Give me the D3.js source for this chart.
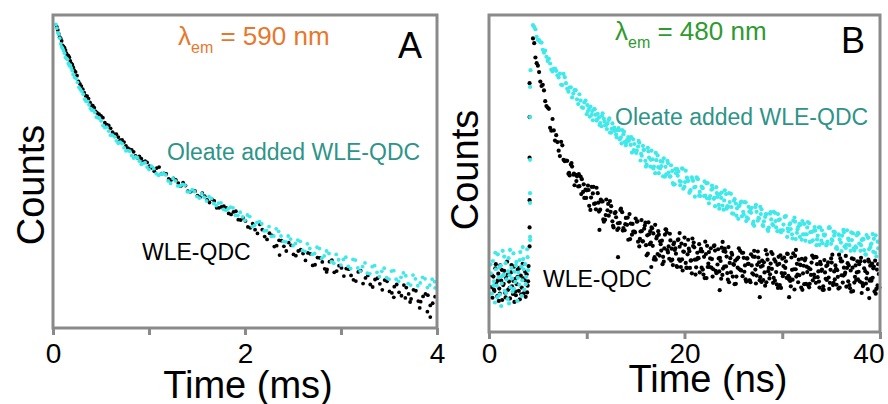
<!DOCTYPE html>
<html>
<head>
<meta charset="utf-8">
<script src="https://cdn.jsdelivr.net/npm/d3@7"></script>
<style>
    body { margin: 0; background: #fff; }
    text { font-family: "Liberation Sans", Arial, sans-serif; }
</style>
</head>
<body>
<svg id="chart" width="888" height="404"></svg>
<script>
// axis ticks
const ticksA = [0, 1, 2, 3, 4];
const tickLabelsA = [0, 2, 4];
const ticksB = [0, 10, 20, 30, 40];
const tickLabelsB = [0, 20, 40];

// panel A, lambda_em = 590 nm, [time (ms), counts]
const blackA = [
    [0.04,96.2],[0.06,94.0],[0.08,92.5],[0.10,90.3],[0.12,89.5],[0.14,87.8],[0.16,87.0],[0.18,85.3],[0.20,84.2],[0.22,82.4],
    [0.25,80.6],[0.28,78.0],[0.31,76.3],[0.34,74.2],[0.37,73.3],[0.40,71.2],[0.43,70.4],[0.46,68.7],[0.50,67.8],[0.54,65.6],
    [0.58,64.7],[0.62,62.6],[0.66,61.9],[0.70,60.0],[0.74,59.4],[0.78,57.5],[0.82,56.9],[0.86,55.0],[0.90,54.8],[0.94,53.1],
    [0.98,52.9],[1.03,51.2],[1.08,51.1],[1.13,49.3],[1.18,49.2],[1.23,47.3],[1.28,47.3],[1.33,45.3],[1.38,45.5],[1.43,43.5],
    [1.48,43.7],[1.53,41.8],[1.58,42.1],[1.63,40.1],[1.68,40.6],[1.73,38.4],[1.78,38.9],[1.83,36.6],[1.88,37.1],[1.93,34.6],
    [1.98,35.2],[2.03,32.3],[2.08,33.3],[2.13,30.2],[2.18,31.4],[2.23,28.3],[2.28,29.6],[2.33,26.3],[2.38,27.9],[2.43,24.6],
    [2.48,26.4],[2.53,23.1],[2.58,25.0],[2.63,21.6],[2.68,23.7],[2.73,20.2],[2.78,22.4],[2.83,18.9],[2.88,21.2],[2.93,17.8],
    [2.98,19.9],[3.03,16.6],[3.08,18.8],[3.13,15.4],[3.18,17.9],[3.23,14.2],[3.28,16.8],[3.33,13.1],[3.38,15.9],[3.43,12.2],
    [3.48,14.9],[3.53,11.2],[3.58,13.9],[3.63,10.3],[3.68,12.9],[3.73,9.3],[3.78,11.9],[3.83,8.4],[3.88,10.9],[3.93,7.2],
    [3.98,10.0],[2.36,23.3],[2.85,17.9],[3.55,9.8],[3.67,9.6],[3.72,8.3],[3.82,6.4],[3.93,3.5],[3.90,5.2],
    [0.05,95.2],[0.07,92.9],[0.09,91.7],[0.11,89.9],[0.13,88.8],[0.15,87.1],[0.17,86.5],[0.19,84.5],[0.21,83.3],[0.235,81.8],
    [0.265,78.8],[0.295,77.3],[0.325,75.2],[0.355,74.1],[0.385,72.1],[0.415,71.0],[0.445,69.2],[0.48,68.3],[0.52,67.2],[0.56,65.0],
    [0.60,63.8],[0.64,61.9],[0.68,61.0],[0.72,60.1],[0.76,58.2],[0.80,57.1],[0.84,56.3],[0.88,54.4],[0.92,54.1],[0.96,53.3],
    [1.005,51.7],[1.055,50.1],[1.105,51.4],[1.155,49.4],[1.205,47.6],[1.255,47.8],[1.305,46.3],[1.355,46.4],[1.405,43.7],[1.455,43.9],
    [1.505,42.3],[1.555,43.1],[1.605,40.9],[1.655,41.2],[1.705,38.4],[1.755,38.7],[1.805,38.4],[1.855,36.3],[1.905,37.3],[1.955,34.5],
    [2.005,34.2],[2.055,32.0],[2.105,31.4],[2.155,33.1],[2.205,29.2],[2.255,30.3],[2.305,26.0],[2.355,28.0],[2.405,26.1],[2.455,27.3],
    [2.505,23.5],[2.555,24.6],[2.605,23.8],[2.655,24.0],[2.705,20.0],[2.755,22.5],[2.805,21.1],[2.855,18.7],[2.905,21.7],[2.955,18.2],
    [3.005,19.2],[3.055,19.0],[3.105,16.8],[3.155,15.0],[3.205,18.3],[3.255,16.0],[3.305,13.9],[3.355,15.5],[3.405,14.1],[3.455,15.3],
    [3.505,11.7],[3.555,13.2],[3.605,11.4],[3.655,13.7],[3.705,10.9],[3.755,12.2],[3.805,8.6],[3.855,10.1],[3.905,10.5],[3.955,7.9]
];
const cyanA = [
    [0.03,97.0],[0.05,94.3],[0.07,92.6],[0.09,89.8],[0.11,88.6],[0.13,86.5],[0.15,85.9],[0.17,83.8],[0.19,83.1],[0.21,81.0],
    [0.24,79.7],[0.27,76.9],[0.30,75.6],[0.33,73.1],[0.36,72.4],[0.39,70.1],[0.42,69.5],[0.45,67.4],[0.48,67.1],[0.52,64.7],
    [0.56,64.2],[0.60,61.6],[0.64,61.1],[0.68,59.0],[0.72,58.9],[0.76,56.6],[0.80,56.5],[0.84,54.3],[0.88,54.4],[0.92,52.3],
    [0.96,52.8],[1.00,50.6],[1.05,50.9],[1.10,48.8],[1.15,49.4],[1.20,47.0],[1.25,47.8],[1.30,45.4],[1.35,45.9],[1.40,43.5],
    [1.45,44.2],[1.50,42.0],[1.55,42.9],[1.60,40.6],[1.65,41.4],[1.70,39.1],[1.75,40.0],[1.80,37.6],[1.85,38.6],[1.90,36.0],
    [1.95,37.0],[2.00,34.4],[2.05,35.6],[2.10,32.8],[2.15,34.0],[2.20,31.0],[2.25,32.4],[2.30,29.4],[2.35,30.9],[2.40,27.7],
    [2.45,29.4],[2.50,26.3],[2.55,28.1],[2.60,24.8],[2.65,26.9],[2.70,23.5],[2.75,25.8],[2.80,22.3],[2.85,24.6],[2.90,21.2],
    [2.95,23.5],[3.00,20.1],[3.05,22.6],[3.10,19.0],[3.15,21.7],[3.20,18.2],[3.25,20.8],[3.30,17.3],[3.35,19.9],[3.40,16.4],
    [3.45,19.1],[3.50,15.6],[3.55,18.3],[3.60,14.9],[3.65,17.6],[3.70,14.2],[3.75,16.9],[3.80,13.5],[3.85,16.2],[3.90,12.9],
    [3.95,15.6],[3.98,12.8],
    [0.04,95.8],[0.06,93.9],[0.08,90.8],[0.10,89.3],[0.12,87.8],[0.14,86.1],[0.16,84.5],[0.18,84.0],[0.20,82.2],[0.225,80.1],
    [0.255,78.5],[0.285,76.2],[0.315,74.7],[0.345,72.4],[0.375,71.3],[0.405,69.6],[0.435,68.9],[0.465,67.2],[0.50,66.2],[0.54,64.0],
    [0.58,62.9],[0.62,61.6],[0.66,59.8],[0.70,59.4],[0.74,57.6],[0.78,56.7],[0.82,55.1],[0.86,54.7],[0.90,53.3],[0.94,52.6],
    [0.98,51.4],[1.025,51.7],[1.075,49.3],[1.125,49.2],[1.175,48.9],[1.225,46.2],[1.275,47.0],[1.325,45.4],[1.375,45.6],[1.425,43.5],
    [1.475,43.6],[1.525,41.5],[1.575,41.8],[1.625,42.0],[1.675,39.8],[1.725,39.9],[1.775,37.9],[1.825,38.1],[1.875,38.4],[1.925,36.0],
    [1.975,35.5],[2.025,36.1],[2.075,32.4],[2.125,33.7],[2.175,33.3],[2.225,31.1],[2.275,29.3],[2.325,31.7],[2.375,29.4],[2.425,27.5],
    [2.475,28.4],[2.525,27.0],[2.575,27.7],[2.625,24.5],[2.675,25.4],[2.725,23.8],[2.775,25.4],[2.825,23.0],[2.875,23.8],[2.925,20.7],
    [2.975,21.8],[3.025,21.9],[3.075,19.7],[3.125,21.9],[3.175,19.2],[3.225,19.6],[3.275,17.5],[3.325,19.6],[3.375,17.8],[3.425,18.1],
    [3.475,16.1],[3.525,18.2],[3.575,15.6],[3.625,16.2],[3.675,16.7],[3.725,13.7],[3.775,15.7],[3.825,14.4],[3.875,15.7],[3.925,13.7],
    [3.975,14.8]
];

// panel B, lambda_em = 480 nm, [time (ns), counts]
const blackB = [
    [0.25,14.2],[0.35,10.8],[0.45,17.5],[0.55,12.9],[0.65,20.1],[0.75,15.6],[0.85,11.3],[0.95,18.4],[1.05,13.7],[1.15,21.0],
    [1.25,16.2],[1.35,10.1],[1.45,14.8],[1.55,19.3],[1.65,12.4],[1.75,17.0],[1.85,22.2],[1.95,13.3],[2.05,15.9],[2.15,10.6],
    [2.25,18.8],[2.35,14.4],[2.45,12.0],[2.55,20.6],[2.65,16.7],[2.75,11.6],[2.85,15.1],[2.95,19.7],[3.05,13.0],[3.15,10.3],
    [3.25,17.8],[3.35,14.0],[3.45,21.5],[3.55,12.2],[3.65,16.4],[3.75,11.1],[3.85,18.2],[3.95,14.6],[4.05,20.8],
    [0.3,17.9],[0.5,13.4],[0.7,21.4],[0.9,16.3],[1.1,12.1],[1.3,19.6],[1.5,15.2],[1.7,10.9],[1.9,18.0],[2.1,13.9],
    [2.3,21.1],[2.5,16.1],[2.7,12.8],[2.9,17.3],[3.1,20.2],[3.3,11.9],[3.5,16.9],[3.7,19.0],[3.9,12.5],[4.0,16.0],[1.0,9.8],[2.6,9.5],
    [4.15,27.0],[4.15,33.0],[4.15,41.6],[4.15,55.0],[4.15,67.8],[4.15,78.5],
    [4.50,92.6],[4.75,86.6],[5.00,84.0],[5.25,79.0],[5.50,78.0],[5.75,72.8],[6.00,70.8],[6.25,64.4],[6.50,67.2],[6.75,60.4],
    [7.00,59.9],[7.25,55.5],[7.50,58.9],[7.75,53.9],[8.00,54.0],[8.25,49.4],[8.50,52.2],[8.75,46.3],[9.00,49.1],[9.25,46.0],
    [9.50,48.2],[9.75,42.3],[10.0,44.7],[10.25,39.8],[10.5,45.8],[10.75,40.4],[11.0,45.5],[11.25,38.0],[11.5,41.2],[11.75,34.8],
    [12.0,41.8],[12.25,36.7],[12.5,39.7],[12.75,33.0],[13.0,36.2],[13.25,32.7],[13.5,38.9],[13.75,32.8],[14.0,36.0],[14.25,29.1],
    [14.5,34.2],[14.75,31.7],[15.0,35.8],[15.25,28.5],[15.5,31.7],[15.75,28.6],[16.0,34.5],[16.25,24.7],[16.5,31.8],[16.75,27.2],
    [17.0,33.8],[17.25,24.6],[17.5,28.6],[17.75,21.4],[18.0,30.7],[18.25,25.8],[18.5,31.0],[18.75,22.8],[19.0,25.9],[19.25,20.5],
    [19.5,26.9],[19.75,22.9],[20.0,29.8],[20.25,20.2],[20.5,25.5],[20.75,18.5],[21.0,26.7],[21.25,22.9],[21.5,27.7],[21.75,20.3],
    [22.0,23.7],[22.25,17.0],[22.5,25.2],[22.75,20.3],[23.0,27.1],[23.25,18.6],[23.5,23.2],[23.75,16.8],[24.0,25.5],[24.25,20.7],
    [24.5,26.8],[24.75,18.8],[25.0,21.4],[25.25,15.2],[25.5,23.5],[25.75,19.5],[26.0,25.0],[26.25,16.6],[26.5,21.5],[26.75,15.7],
    [27.0,23.8],[27.25,19.7],[27.5,25.4],[27.75,17.3],[28.0,20.9],[28.25,14.6],[28.5,22.8],[28.75,18.2],[29.0,24.6],[29.25,16.2],
    [29.5,21.2],[29.75,14.8],[30.0,23.1],[30.25,18.5],[30.5,24.7],[30.75,17.1],[31.0,19.6],[31.25,13.4],[31.5,21.5],[31.75,17.9],
    [32.0,23.1],[32.25,15.1],[32.5,20.6],[32.75,14.1],[33.0,21.9],[33.25,18.1],[33.5,23.6],[33.75,15.9],[34.0,19.3],[34.25,13.3],
    [34.5,20.8],[34.75,17.2],[35.0,23.2],[35.25,15.5],[35.5,19.9],[35.75,13.7],[36.0,22.3],[36.25,17.8],[36.5,24.0],[36.75,16.0],
    [37.0,19.4],[37.25,12.9],[37.5,21.0],[37.75,16.6],[38.0,22.3],[38.25,14.5],[38.5,19.2],[38.75,13.5],[39.0,20.9],[39.25,17.1],
    [39.5,22.5],[39.75,14.7],
    [4.625,91.1],[4.875,84.8],[5.125,82.0],[5.375,77.6],[5.625,76.2],[5.875,71.3],[6.125,70.4],[6.375,63.5],[6.625,63.6],[6.875,62.1],
    [7.125,57.2],[7.375,60.0],[7.625,54.3],[7.875,54.1],[8.125,49.9],[8.375,52.8],[8.625,49.6],[8.875,49.6],[9.125,45.9],[9.375,49.0],
    [9.625,44.2],[9.875,44.9],[10.125,46.2],[10.375,38.5],[10.625,43.7],[10.875,40.6],[11.125,43.8],[11.375,38.6],[11.625,41.2],[11.875,35.4],
    [12.125,38.4],[12.375,41.3],[12.625,34.9],[12.875,37.5],[13.125,32.2],[13.375,34.4],[13.625,37.8],[13.875,32.1],[14.125,33.8],[14.375,37.2],
    [14.625,30.7],[14.875,31.7],[15.125,34.8],[15.375,27.0],[15.625,31.8],[15.875,32.6],[16.125,24.2],[16.375,30.8],[16.625,33.0],[16.875,22.9],
    [17.125,29.5],[17.375,30.7],[17.625,25.7],[17.875,22.2],[18.125,32.3],[18.375,27.0],[18.625,22.5],[18.875,27.7],[19.125,24.7],[19.375,29.2],
    [19.625,20.5],[19.875,25.4],[20.125,21.8],[20.375,29.1],[20.625,22.5],[20.875,27.1],[21.125,18.1],[21.375,23.4],[21.625,25.5],[21.875,19.7],
    [22.125,28.5],[22.375,20.5],[22.625,23.2],[22.875,17.5],[23.125,25.7],[23.375,21.3],[23.625,23.4],[23.875,18.0],[24.125,26.3],[24.375,18.6],
    [24.625,21.8],[24.875,24.4],[25.125,15.1],[25.375,23.0],[25.625,19.8],[25.875,25.0],[26.125,19.0],[26.375,23.2],[26.625,16.3],[26.875,21.0],
    [27.125,25.6],[27.375,17.8],[27.625,22.0],[27.875,15.8],[28.125,22.0],[28.375,15.7],[28.625,20.2],[28.875,25.2],[29.125,17.1],[29.375,18.9],
    [29.625,23.7],[29.875,13.9],[30.125,20.8],[30.375,22.3],[30.625,17.7],[30.875,14.4],[31.125,24.8],[31.375,19.8],[31.625,15.7],[31.875,21.1],
    [32.125,18.5],[32.375,23.2],[32.625,14.8],[32.875,19.8],[33.125,16.3],[33.375,23.7],[33.625,17.3],[33.875,22.1],[34.125,13.3],[34.375,18.8],
    [34.625,21.1],[34.875,15.5],[35.125,24.4],[35.375,16.6],[35.625,19.5],[35.875,14.0],[36.125,22.3],[36.375,18.1],[36.625,20.2],[36.875,14.8],
    [37.125,23.2],[37.375,15.6],[37.625,18.8],[37.875,21.4],[38.125,12.3],[38.375,20.1],[38.625,16.9],[38.875,22.2],[39.125,16.2],[39.375,20.6],
    [39.625,13.6],[39.875,18.3],
    [16.06,27.4],[16.31,34.6],[16.56,28.2],[16.81,31.1],[17.06,22.8],[17.31,31.8],[17.56,27.7],[17.81,23.7],[18.06,32.4],[18.31,25.1],
    [18.56,28.9],[18.81,21.1],[19.06,26.4],[19.31,29.0],[19.56,22.4],[19.81,19.4],[20.06,27.5],[20.31,24.5],[20.56,20.2],[20.81,29.5],
    [21.06,22.8],[21.31,25.0],[21.56,18.8],[21.81,25.4],[22.06,17.0],[22.31,27.2],[22.56,20.5],[22.81,23.0],[23.06,27.3],[23.31,18.7],
    [23.56,19.1],[23.81,26.6],[24.06,20.6],[24.31,23.8],[24.56,15.7],[24.81,25.0],[25.06,21.2],[25.31,17.5],[25.56,26.4],[25.81,19.4],
    [26.06,23.4],[26.31,15.9],[26.56,21.5],[26.81,24.5],[27.06,18.1],[27.31,15.3],[27.56,23.5],[27.81,20.6],[28.06,16.4],[28.31,25.8],
    [28.56,19.2],[28.81,21.6],[29.06,15.5],[29.31,22.2],[29.56,13.9],[29.81,24.2],[30.06,17.6],[30.31,20.2],[30.56,24.6],[30.81,16.1],
    [31.06,16.5],[31.31,24.0],[31.56,18.1],[31.81,21.3],[32.06,13.3],[32.31,22.6],[32.56,18.9],[32.81,15.2],[33.06,24.1],[33.31,17.2],
    [33.56,21.4],[33.81,14.0],[34.06,19.7],[34.31,22.7],[34.56,16.4],[34.81,13.6],[35.06,21.9],[35.31,19.1],[35.56,14.9],[35.81,24.4],
    [36.06,17.9],[36.31,20.3],[36.56,14.3],[36.81,21.0],[37.06,12.7],[37.31,23.0],[37.56,16.4],[37.81,19.0],[38.06,23.4],[38.31,14.9],
    [38.56,15.3],[38.81,22.8],[39.06,16.8],[39.31,20.1],[39.56,12.1],[39.81,21.4],
    [8.19,50.2],[8.44,53.3],[8.69,50.0],[8.94,47.6],[9.19,49.8],[9.44,43.5],[9.69,46.6],[9.94,42.3],[10.19,44.8],[10.44,42.4],
    [10.69,45.8],[10.94,38.7],[11.19,40.8],[11.44,41.8],[11.69,35.5],[11.94,36.9],[12.19,40.4],[12.44,37.9],[12.69,33.5],[12.94,37.8],
    [13.19,34.3],[13.44,38.5],[13.69,32.0],[13.94,34.0],[14.19,36.1],[14.44,29.3],[14.69,34.1],[14.94,31.4],[15.19,34.9],[15.44,29.4],
    [15.69,28.6],[15.94,33.6],[16.19,30.5],[16.44,27.7],[16.69,32.7],[16.94,23.6],[17.19,30.2],[17.44,24.1],[17.69,28.8],[17.94,26.4],
    [18.19,31.4],[18.44,23.1],[18.69,26.3],[18.94,28.2],[19.19,20.8],[19.44,22.9],[19.69,27.9],[19.94,25.3],[20.19,20.3],[20.44,26.3],
    [20.69,22.6],[20.94,28.2],[21.19,20.4],[21.44,23.3],[21.69,26.2],[21.94,18.1],[22.19,24.6],[22.44,21.6],[22.69,26.4],[22.94,19.8],
    [23.19,19.3],[23.44,26.1],[23.69,22.4],[23.94,20.0],[24.19,25.3],[24.44,16.5],[24.69,23.3],[24.94,17.5],[25.19,22.5],[25.44,20.3],
    [25.69,25.6],[25.94,17.6],[26.19,21.0],[26.44,23.2],[26.69,16.2],[26.94,18.5],[27.19,23.7],[27.44,21.2],[27.69,16.3],[27.94,22.5],
    [28.19,18.8],[28.44,24.5],[28.69,16.9],[28.94,19.9],[29.19,22.9],[29.44,15.0],[29.69,21.5],[29.94,18.6],[30.19,23.5],[30.44,17.1],
    [30.69,16.6],[30.94,23.5],[31.19,19.8],[31.44,17.5],[31.69,22.8],[31.94,14.0],[32.19,20.9],[32.44,15.2],[32.69,20.2],[32.94,18.0],
    [33.19,23.4],[33.44,15.5],[33.69,19.1],[33.94,21.4],[34.19,14.4],[34.44,16.8],[34.69,22.0],[34.94,19.6],[35.19,14.8],[35.44,21.0],
    [35.69,17.4],[35.94,23.2],[36.19,15.6],[36.44,18.7],[36.69,21.7],[36.94,13.8],[37.19,20.3],[37.44,17.4],[37.69,22.3],[37.94,15.9],
    [38.19,15.4],[38.44,22.3],[38.69,18.6],[38.94,16.2],[39.19,21.6],[39.44,12.8],[39.69,19.7],[39.94,14.0],
    [11.3,32.2],[13.2,23.6],[16.6,20.5],[15.6,35.3],[27.7,11.0],[30.7,11.0],[38.9,10.7],[23.6,13.2],[19.5,31.2],[23.9,28.4],[31.4,25.9]
];
const cyanB = [
    [0.2,18.5],[0.3,12.1],[0.4,22.4],[0.5,16.0],[0.6,9.3],[0.7,19.8],[0.8,14.6],[0.9,24.5],[1.0,17.2],[1.1,11.8],
    [1.2,20.9],[1.3,15.3],[1.4,25.6],[1.5,18.1],[1.6,13.0],[1.7,21.7],[1.8,16.6],[1.9,10.4],[2.0,23.3],[2.1,17.9],
    [2.2,14.1],[2.3,20.2],[2.4,12.7],[2.5,24.8],[2.6,19.0],[2.7,15.8],[2.8,22.1],[2.9,9.8],[3.0,18.7],[3.1,14.9],
    [3.2,25.2],[3.3,20.6],[3.4,16.3],[3.5,23.0],[3.6,13.4],[3.7,21.4],[3.8,17.4],[3.9,26.1],[4.0,19.5],
    [0.15,21.3],[0.45,14.7],[0.65,25.0],[0.85,11.0],[1.05,20.4],[1.35,17.6],[1.55,23.8],[1.75,12.3],[1.95,19.1],[2.15,25.9],
    [2.35,16.9],[2.55,13.6],[2.75,21.0],[2.95,17.1],[3.15,22.7],[3.35,11.4],[3.55,19.8],[3.75,15.1],[3.95,23.6],[1.25,8.2],[2.05,9.0],[3.45,26.8],
    [4.2,29.0],[4.2,30.0],[4.2,40.7],[4.2,43.8],[4.2,54.3],[4.2,67.8],[4.2,77.3],[4.25,82.6],
    [4.50,96.8],[4.75,95.5],[5.00,92.1],[5.25,91.4],[5.50,89.0],[5.75,88.8],[6.00,85.5],[6.25,84.7],[6.50,82.2],[6.75,83.1],
    [7.00,81.0],[7.25,81.5],[7.50,77.9],[7.75,80.4],[8.00,76.7],[8.25,77.1],[8.50,74.0],[8.75,76.3],[9.00,73.4],[9.25,75.0],
    [9.50,70.9],[9.75,72.4],[10.0,68.7],[10.25,70.5],[10.5,68.5],[10.75,70.3],[11.0,66.7],[11.25,67.7],[11.5,64.9],[11.75,67.3],
    [12.0,65.3],[12.25,66.9],[12.5,62.9],[12.75,64.1],[13.0,62.3],[13.25,64.3],[13.5,61.4],[13.75,62.4],[14.0,58.9],[14.25,61.5],
    [14.5,59.0],[14.75,60.8],[15.0,57.0],[15.25,58.5],[15.5,54.1],[15.75,58.7],[16.0,54.0],[16.25,58.1],[16.5,52.2],[16.75,54.5],
    [17.0,50.1],[17.25,55.7],[17.5,51.6],[17.75,53.7],[18.0,49.0],[18.25,54.0],[18.5,49.0],[18.75,50.8],[19.0,46.6],[19.25,51.4],
    [19.5,47.6],[19.75,51.6],[20.0,45.8],[20.25,48.7],[20.5,43.9],[20.75,48.8],[21.0,45.6],[21.25,48.8],[21.5,43.0],[21.75,45.9],
    [22.0,42.9],[22.25,46.9],[22.5,40.6],[22.75,44.9],[23.0,42.0],[23.25,45.7],[23.5,40.1],[23.75,42.3],[24.0,38.6],[24.25,43.5],
    [24.5,39.5],[24.75,43.6],[25.0,37.3],[25.25,40.5],[25.5,35.7],[25.75,40.8],[26.0,37.9],[26.25,40.9],[26.5,35.7],[26.75,38.5],
    [27.0,34.1],[27.25,39.4],[27.5,35.1],[27.75,39.5],[28.0,33.7],[28.25,36.3],[28.5,32.3],[28.75,37.3],[29.0,34.0],[29.25,37.6],
    [29.5,31.8],[29.75,35.5],[30.0,32.0],[30.25,36.3],[30.5,30.0],[30.75,33.9],[31.0,30.8],[31.25,36.1],[31.5,31.3],[31.75,34.1],
    [32.0,29.1],[32.25,34.1],[32.5,30.8],[32.75,34.3],[33.0,28.6],[33.25,32.0],[33.5,27.4],[33.75,33.0],[34.0,28.8],[34.25,30.7],
    [34.5,27.3],[34.75,32.8],[35.0,27.8],[35.25,31.7],[35.5,26.4],[35.75,30.8],[36.0,28.2],[36.25,32.2],[36.5,26.5],[36.75,29.5],
    [37.0,25.6],[37.25,31.1],[37.5,27.0],[37.75,31.3],[38.0,25.6],[38.25,29.4],[38.5,24.5],[38.75,29.7],[39.0,26.7],[39.25,30.9],
    [39.5,25.0],[39.75,28.5],
    [4.625,96.2],[4.875,93.1],[5.125,92.1],[5.375,91.3],[5.625,88.1],[5.875,86.8],[6.125,86.2],[6.375,82.8],[6.625,83.0],[6.875,82.4],
    [7.125,80.3],[7.375,78.0],[7.625,81.4],[7.875,78.5],[8.125,75.8],[8.375,77.2],[8.625,75.2],[8.875,76.3],[9.125,71.9],[9.375,73.0],
    [9.625,70.7],[9.875,73.0],[10.125,69.7],[10.375,71.1],[10.625,66.8],[10.875,68.5],[11.125,68.8],[11.375,65.9],[11.625,69.0],[11.875,65.2],
    [12.125,65.8],[12.375,62.9],[12.625,65.8],[12.875,63.4],[13.125,63.7],[13.375,60.8],[13.625,63.7],[13.875,59.9],[14.125,60.6],[14.375,61.1],
    [14.625,56.6],[14.875,59.3],[15.125,57.2],[15.375,59.7],[15.625,55.6],[15.875,57.5],[16.125,52.8],[16.375,55.0],[16.625,57.2],[16.875,52.2],
    [17.125,54.2],[17.375,50.1],[17.625,52.3],[17.875,54.8],[18.125,49.7],[18.375,50.3],[18.625,52.6],[18.875,46.5],[19.125,50.1],[19.375,50.6],
    [19.625,47.4],[19.875,45.2],[20.125,50.9],[20.375,47.6],[20.625,44.8],[20.875,47.7],[21.125,45.8],[21.375,48.2],[21.625,42.9],[21.875,45.4],
    [22.125,43.0],[22.375,47.0],[22.625,42.9],[22.875,45.2],[23.125,39.7],[23.375,42.6],[23.625,43.5],[23.875,39.9],[24.125,44.7],[24.375,39.7],
    [24.625,41.0],[24.875,37.4],[25.125,41.9],[25.375,39.0],[25.625,39.9],[25.875,36.5],[26.125,41.0],[26.375,36.2],[26.625,37.9],[26.875,39.2],
    [27.125,33.5],[27.375,37.9],[27.625,35.8],[27.875,38.7],[28.125,34.9],[28.375,37.2],[28.625,32.9],[28.875,35.5],[29.125,37.9],[29.375,33.0],
    [29.625,35.3],[29.875,31.5],[30.125,33.9],[30.375,36.6],[30.625,31.7],[30.875,32.5],[31.125,35.1],[31.375,29.3],[31.625,33.1],[31.875,33.8],
    [32.125,30.8],[32.375,28.8],[32.625,34.7],[32.875,31.5],[33.125,28.9],[33.375,32.0],[33.625,30.4],[33.875,33.0],[34.125,28.0],[34.375,30.7],
    [34.625,28.5],[34.875,32.8],[35.125,28.9],[35.375,31.5],[35.625,26.2],[35.875,29.2],[36.125,30.4],[36.375,27.0],[36.625,32.1],[36.875,27.4],
    [37.125,29.0],[37.375,25.7],[37.625,30.5],[37.875,27.9],[38.125,29.0],[38.375,25.8],[38.625,30.6],[38.875,26.1],[39.125,27.9],[39.375,29.4],
    [39.625,23.9],[39.875,28.5],
    [10.06,71.6],[10.31,67.9],[10.56,69.7],[10.81,70.3],[11.06,67.1],[11.31,65.3],[11.56,68.2],[11.81,66.4],[12.06,64.0],[12.31,67.4],
    [12.56,64.1],[12.81,64.5],[13.06,61.4],[13.31,63.7],[13.56,59.5],[13.81,63.2],[14.06,59.8],[14.31,60.3],[14.56,61.5],[14.81,57.4],
    [15.06,56.5],[15.31,60.3],[15.56,56.2],[15.81,57.4],[16.06,52.2],[16.31,57.0],[16.56,54.3],[16.81,51.6],[17.06,56.5],[17.31,52.0],
    [17.56,53.9],[17.81,49.1],[18.06,52.1],[18.31,53.3],[18.56,49.1],[18.81,47.0],[19.06,51.4],[19.31,49.3],[19.56,46.3],[19.81,51.5],
    [20.06,47.3],[20.31,48.3],[20.56,44.4],[20.81,48.0],[21.06,42.7],[21.31,48.4],[21.56,44.2],[21.81,45.4],[22.06,47.5],[22.31,42.2],
    [22.56,42.1],[22.81,46.2],[23.06,42.3],[23.31,43.8],[23.56,38.9],[23.81,44.0],[24.06,41.5],[24.31,38.9],[24.56,43.8],[24.81,39.4],
    [25.06,41.4],[25.31,36.7],[25.56,39.7],[25.81,41.1],[26.06,37.0],[26.31,35.0],[26.56,39.5],[26.81,37.6],[27.06,34.8],[27.31,40.1],
    [27.56,36.0],[27.81,37.2],[28.06,33.4],[28.31,37.1],[28.56,31.9],[28.81,37.8],[29.06,33.7],[29.31,35.0],[29.56,37.2],[29.81,32.1],
    [30.06,32.1],[30.31,36.4],[30.56,32.6],[30.81,34.3],[31.06,29.5],[31.31,34.8],[31.56,32.4],[31.81,30.0],[32.06,35.0],[32.31,30.8],
    [32.56,33.0],[32.81,28.4],[33.06,31.6],[33.31,33.1],[33.56,29.2],[33.81,27.5],[34.06,32.1],[34.31,30.4],[34.56,27.7],[34.81,33.1],
    [35.06,29.2],[35.31,30.4],[35.56,26.8],[35.81,30.6],[36.06,25.5],[36.31,31.5],[36.56,27.5],[36.81,29.0],[37.06,31.4],[37.31,26.4],
    [37.56,26.6],[37.81,31.0],[38.06,27.4],[38.31,29.2],[38.56,24.4],[38.81,29.8],[39.06,27.6],[39.31,25.3],[39.56,30.5],[39.81,26.4]
];

const svg = d3.select("#chart");

const drawPanel = (p) => {
    const g = svg.append("g");

    let x = d3.scaleLinear()
        .domain(p.xDomain)
        .range([p.left, p.right]);

    let y = d3.scaleLinear()
        .domain([0, 100])
        .range([p.bottom, p.top]);

    // Add points, black first so the cyan sits on top
    [[p.black, "#000"], [p.cyan, "#3fe9e9"]].forEach(([data, colour]) => {
        g.append("g")
            .selectAll("circle")
            .data(data)
            .enter()
            .append("circle")
            .attr("cx", d => x(d[0]))
            .attr("cy", d => y(d[1]))
            .attr("r", p.dot)
            .attr("fill", colour);
    });

    // Frame
    g.append("rect")
        .attr("x", p.left)
        .attr("y", p.top)
        .attr("width", p.right - p.left)
        .attr("height", p.bottom - p.top)
        .attr("fill", "none")
        .attr("stroke", "#8a8a8a")
        .attr("stroke-width", 3);

    // X axis
    const axis = g.append("g")
        .attr("transform", "translate(0," + p.bottom + ")")
        .call(d3.axisBottom(x)
            .tickValues(p.ticks)
            .tickSizeInner(7)
            .tickSizeOuter(0)
            .tickFormat(d => p.tickLabels.includes(d) ? d : ""));
    axis.select(".domain").remove();
    axis.selectAll("line")
        .attr("stroke", "#8a8a8a")
        .attr("stroke-width", 3);
    axis.selectAll("text")
        .attr("y", 363 - p.bottom)
        .attr("dy", 0)
        .attr("fill", "#000")
        .attr("font-size", "28px")
        .attr("font-family", "Liberation Sans, Arial, sans-serif");
    // last label sits inside the picture edge
    axis.selectAll("text")
        .filter(d => d === p.xDomain[1] && p.lastAnchorEnd)
        .attr("text-anchor", "end")
        .attr("x", 4);

    svg.append("text")
        .attr("x", p.xLabelX)
        .attr("y", p.xLabelY)
        .attr("font-size", "38px")
        .style("text-anchor", "middle")
        .text(p.xLabel);

    svg.append("text")
        .attr("transform", "translate(" + p.yLabelX + "," + p.yLabelY + ") rotate(-90)")
        .attr("font-size", "38px")
        .style("text-anchor", "middle")
        .text("Counts");

    // Wavelength title
    const title = svg.append("text")
        .attr("x", p.titleX)
        .attr("y", p.titleY)
        .attr("font-size", "26px")
        .attr("fill", p.titleColour);
    title.append("tspan").text("λ");
    title.append("tspan").attr("font-size", "16px").attr("dy", 8).text("em");
    title.append("tspan").attr("dy", -8).text(" = " + p.wavelength + " nm");

    svg.append("text")
        .attr("x", p.right - 15)
        .attr("y", p.letterY)
        .attr("font-size", "36px")
        .style("text-anchor", "end")
        .text(p.letter);

    svg.append("text")
        .attr("x", p.oleateX)
        .attr("y", p.oleateY)
        .attr("font-size", "23px")
        .attr("fill", "#2e9488")
        .text("Oleate added WLE-QDC");

    svg.append("text")
        .attr("x", p.wleX)
        .attr("y", p.wleY)
        .attr("font-size", "23px")
        .attr("fill", "#000")
        .text("WLE-QDC");
};

drawPanel({
    left: 53, right: 437, top: 15, bottom: 328, dot: 1.9,
    xDomain: [0, 4], ticks: ticksA, tickLabels: tickLabelsA,
    black: blackA, cyan: cyanA,
    xLabel: "Time (ms)", xLabelX: 248, xLabelY: 398,
    yLabelX: 44, yLabelY: 185,
    titleX: 178, titleY: 45, titleColour: "#e8772c", wavelength: 590,
    letter: "A", letterY: 58,
    oleateX: 167, oleateY: 160,
    wleX: 142, wleY: 260
});

drawPanel({
    left: 489, right: 880, top: 15, bottom: 332, dot: 2.1,
    xDomain: [0, 40], ticks: ticksB, tickLabels: tickLabelsB, lastAnchorEnd: true,
    black: blackB, cyan: cyanB,
    xLabel: "Time (ns)", xLabelX: 708, xLabelY: 392,
    yLabelX: 478, yLabelY: 170,
    titleX: 615, titleY: 40, titleColour: "#2f9a2f", wavelength: 480,
    letter: "B", letterY: 53,
    oleateX: 615, oleateY: 125,
    wleX: 543, wleY: 287
});
</script>
</body>
</html>
